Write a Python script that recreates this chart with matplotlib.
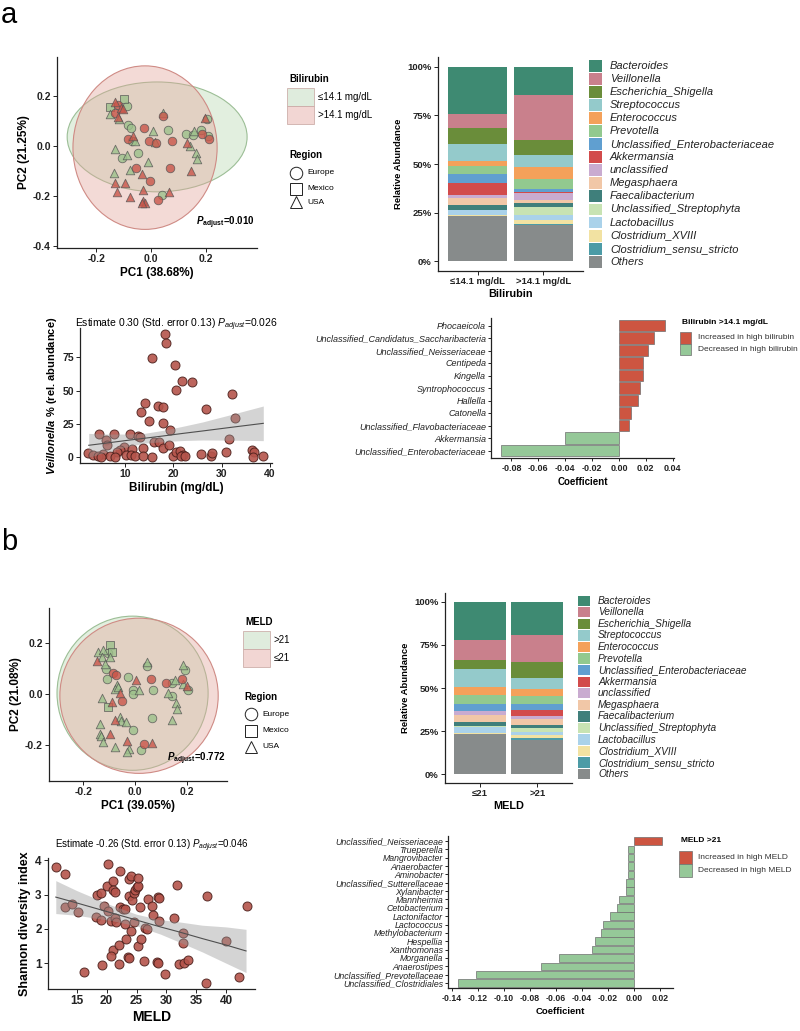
import numpy as np
import matplotlib.pyplot as plt
from matplotlib.patches import Ellipse, Rectangle

plt.rcParams['font.family'] = ['Liberation Sans', 'DejaVu Sans']
plt.rcParams['mathtext.fontset'] = 'custom'
plt.rcParams['mathtext.rm'] = 'Liberation Sans'
plt.rcParams['mathtext.it'] = 'Liberation Sans:italic'
plt.rcParams['mathtext.bf'] = 'Liberation Sans:bold'
plt.rcParams['mathtext.bfit'] = 'Liberation Sans:italic:bold'

# ---------------- data ----------------
# PCoA coloured by bilirubin (0 = <=14.1 mg/dL, 1 = >14.1 mg/dL)
pc1_bil = [-0.149, -0.131, -0.098, -0.120, -0.109, -0.087, -0.149, -0.131, -0.120, -0.102,
           -0.118, -0.084, -0.072, -0.066, -0.084, -0.060, -0.070, -0.025, 0.007, -0.007,
           0.018, 0.015, 0.076, 0.044, 0.044, 0.062, 0.127, 0.151, 0.157, 0.182,
           0.184, 0.196, 0.202, 0.207, 0.211, 0.131, 0.142, 0.164, 0.167, 0.145,
           -0.131, -0.107, -0.086, -0.048, -0.013, -0.076, -0.055, -0.034, -0.004, -0.134,
           -0.131, -0.095, -0.124, -0.076, -0.029, -0.029, -0.022, -0.033, 0.025, 0.040,
           0.066, 0.069]
pc2_bil = [0.156, 0.173, 0.188, 0.164, 0.152, 0.160, 0.128, 0.129, 0.116, 0.145,
           0.107, 0.081, 0.072, 0.038, 0.025, 0.019, 0.020, 0.069, 0.058, 0.018,
           0.010, 0.016, 0.018, 0.132, 0.120, 0.061, 0.045, 0.042, 0.058, 0.061,
           0.045, 0.112, 0.106, 0.038, 0.025, 0.010, 0.000, -0.030, -0.055, -0.100,
           -0.015, -0.050, -0.037, -0.030, -0.064, -0.099, -0.090, -0.113, -0.142, -0.110,
           -0.149, -0.149, -0.185, -0.205, -0.177, -0.221, -0.231, -0.228, -0.216, -0.197,
           -0.185, -0.090]
grp_bil = [0, 1, 0, 1, 1, 0, 0, 1, 1, 1,
           0, 0, 0, 1, 1, 0, 0, 1, 0, 1,
           1, 0, 1, 0, 1, 0, 0, 0, 0, 0,
           1, 1, 0, 0, 1, 1, 0, 0, 0, 1,
           0, 0, 0, 0, 0, 0, 1, 1, 1, 0,
           1, 1, 1, 1, 1, 1, 1, 1, 1, 0,
           1, 1]
reg_bil = ['M', 'U', 'M', 'E', 'U', 'E', 'U', 'E', 'U', 'U',
           'U', 'E', 'E', 'U', 'E', 'U', 'E', 'E', 'U', 'E',
           'E', 'U', 'E', 'U', 'E', 'E', 'E', 'E', 'U', 'E',
           'E', 'U', 'E', 'E', 'E', 'U', 'U', 'U', 'U', 'U',
           'U', 'E', 'U', 'E', 'U', 'U', 'E', 'U', 'E', 'U',
           'U', 'U', 'U', 'U', 'U', 'U', 'U', 'U', 'E', 'E',
           'U', 'E']
# ellipses: centre x, centre y, width, height
ell_bil_low = [0.022, 0.035, 0.654, 0.440]
ell_bil_high = [-0.022, -0.008, 0.524, 0.655]

# PCoA coloured by MELD (0 = <=21, 1 = >21)
pc1_meld = [-0.097, -0.142, -0.123, -0.103, -0.090, -0.146, -0.129, -0.116, -0.110, -0.097,
            -0.106, -0.084, -0.072, -0.026, 0.006, 0.061, 0.045, 0.045, -0.071, -0.078,
            -0.064, -0.009, -0.006, 0.017, 0.071, -0.058, -0.087, -0.048, -0.129, -0.103,
            0.120, 0.142, 0.155, 0.181, 0.187, 0.194, 0.185, 0.203, 0.207, 0.129,
            0.142, 0.159, 0.161, 0.142, 0.067, -0.078, -0.058, -0.052, -0.035, -0.006,
            -0.136, -0.136, -0.097, -0.132, -0.123, -0.032, -0.078, -0.022, -0.030, 0.023,
            0.035, 0.065]
pc2_meld = [0.190, 0.164, 0.171, 0.160, 0.164, 0.129, 0.144, 0.115, 0.098, 0.144,
            0.059, 0.081, 0.072, 0.066, 0.055, 0.058, 0.125, 0.108, 0.033, 0.020,
            0.028, 0.013, 0.000, 0.016, 0.013, 0.003, -0.033, -0.029, -0.017, -0.052,
            0.042, 0.042, 0.055, 0.059, 0.112, 0.094, 0.039, 0.029, 0.013, 0.003,
            -0.010, -0.037, -0.059, -0.105, -0.094, -0.102, -0.092, -0.108, -0.112, -0.142,
            -0.118, -0.157, -0.157, -0.167, -0.190, -0.184, -0.210, -0.217, -0.230, -0.223,
            -0.199, -0.193]
grp_meld = [1, 1, 1, 1, 1, 0, 1, 1, 1, 1,
            1, 0, 0, 1, 0, 0, 1, 1, 1, 1,
            1, 1, 1, 1, 1, 0, 0, 0, 1, 1,
            0, 1, 1, 0, 1, 1, 1, 0, 1, 1,
            1, 1, 1, 1, 1, 0, 1, 1, 1, 1,
            1, 1, 0, 1, 1, 0, 1, 1, 1, 1,
            0, 0]
reg_meld = ['M', 'U', 'U', 'E', 'M', 'U', 'U', 'U', 'E', 'U',
            'E', 'E', 'E', 'E', 'U', 'E', 'U', 'E', 'U', 'U',
            'U', 'E', 'E', 'U', 'E', 'U', 'U', 'E', 'U', 'M',
            'E', 'E', 'U', 'E', 'U', 'E', 'U', 'U', 'E', 'U',
            'E', 'U', 'U', 'U', 'E', 'U', 'U', 'U', 'U', 'E',
            'U', 'U', 'U', 'U', 'U', 'U', 'U', 'U', 'U', 'E',
            'E', 'U']
ell_meld_high = [-0.009, 0.002, 0.584, 0.606]
ell_meld_low = [0.016, -0.008, 0.612, 0.610]

# stacked relative abundance (percent)
taxa = ['Bacteroides', 'Veillonella', 'Escherichia_Shigella', 'Streptococcus', 'Enterococcus',
        'Prevotella', 'Unclassified_Enterobacteriaceae', 'Akkermansia', 'unclassified',
        'Megasphaera', 'Faecalibacterium', 'Unclassified_Streptophyta', 'Lactobacillus',
        'Clostridium_XVIII', 'Clostridium_sensu_stricto', 'Others']
taxa_colors = ['#3E8A72', '#C9808C', '#6A8D3A', '#94CACB', '#F4A15A', '#92C98F', '#609FD0',
               '#D24B4B', '#C9ABD0', '#F1C7A7', '#3F7F7B', '#C8E3B3', '#AAD2EA', '#F2E2A2',
               '#4C9BA6', '#878B8B']
bil_groups = ['≤14.1 mg/dL', '>14.1 mg/dL']
abund_bil_low = [24.4, 7.2, 8.0, 8.7, 2.9, 3.9, 4.6, 6.0, 1.7, 3.8, 2.2, 0.3, 2.7, 0.2, 0.2, 23.2]
abund_bil_high = [14.8, 23.2, 7.5, 6.0, 6.5, 5.1, 1.7, 0.3, 3.4, 1.7, 2.2, 3.8, 2.6, 2.2, 0.7, 18.6]
meld_groups = ['≤21', '>21']
abund_meld_low = [22.5, 11.3, 5.0, 10.8, 4.8, 5.2, 3.8, 0.3, 2.3, 3.8, 2.5, 0.3, 3.8, 0.2, 0.3, 23.3]
abund_meld_high = [19.2, 16.0, 8.7, 6.7, 4.2, 4.2, 3.5, 3.8, 1.7, 3.1, 1.9, 2.3, 2.1, 1.7, 1.2, 19.6]

# Veillonella vs bilirubin
bilirubin = [18.3, 18.5, 15.6, 20.3, 21.7, 23.9, 20.5, 32.1, 14.1, 13.4,
             16.8, 17.8, 26.8, 15.0, 17.8, 32.8, 19.4, 4.6, 7.7, 11.0,
             12.6, 13.2, 6.1, 6.2, 16.0, 17.1, 17.9, 19.0, 31.6, 9.7,
             9.0, 11.5, 8.3, 13.8, 2.4, 3.4, 5.5, 4.5, 6.9, 7.9,
             10.3, 11.2, 12.1, 13.8, 15.6, 19.9, 20.6, 21.4, 22.0, 21.6,
             22.4, 25.7, 27.7, 28.0, 30.9, 36.2, 36.7, 36.4, 38.6, 5.0]
veillonella = [92.4, 86.1, 74.8, 69.3, 57.2, 56.4, 50.4, 47.6, 40.3, 34.0,
               38.3, 37.8, 36.0, 27.2, 25.7, 29.2, 19.9, 16.9, 17.4, 17.4,
               15.6, 14.9, 12.8, 8.8, 11.1, 11.1, 6.5, 8.8, 13.1, 7.1,
               5.0, 5.8, 3.5, 6.3, 2.5, 1.3, 2.0, 0.3, 0.3, 0.0,
               1.5, 1.3, 0.3, 0.3, 0.0, 0.5, 3.8, 4.0, 1.5, 0.5,
               0.3, 2.0, 0.8, 2.5, 3.8, 5.0, 3.3, 0.0, 0.3, 0.0]
fit_bil_x = [2.5, 6, 10, 14, 18, 22, 26, 32, 38.6]
fit_bil_mid = [8.6, 10.2, 12.1, 13.9, 15.7, 17.6, 19.4, 22.2, 25.2]
fit_bil_lo = [-0.4, 3.3, 7.1, 10.2, 11.4, 12.2, 12.6, 12.5, 12.1]
fit_bil_hi = [17.6, 17.1, 17.1, 17.6, 20.0, 23.0, 26.2, 31.9, 38.3]

# Shannon vs MELD
meld = [11.5, 13.1, 13.0, 14.2, 15.2, 16.2, 18.2, 18.4, 19.1, 19.0,
        19.3, 19.6, 20.3, 20.3, 20.1, 21.1, 21.0, 21.4, 20.8, 21.4,
        21.5, 21.1, 20.7, 22.1, 22.1, 22.2, 22.2, 22.8, 23.1, 23.1,
        23.2, 23.5, 23.8, 24.1, 23.7, 23.8, 24.1, 24.2, 24.5, 24.7,
        25.1, 25.3, 24.5, 25.3, 25.2, 25.6, 25.7, 26.4, 26.8, 26.3,
        26.9, 27.5, 27.8, 28.5, 28.6, 28.6, 28.7, 28.7, 29.7, 31.2,
        31.7, 32.1, 32.9, 32.7, 32.8, 33.6, 36.6, 36.7, 40.0, 42.1,
        43.4]
shannon = [3.80, 3.60, 2.64, 2.73, 2.49, 0.74, 2.35, 2.98, 3.04, 2.27,
           0.95, 2.67, 2.51, 3.90, 3.25, 3.39, 3.14, 3.09, 2.22, 2.31,
           2.19, 1.39, 1.22, 1.52, 0.98, 3.70, 2.63, 2.59, 2.58, 2.16,
           1.71, 1.19, 1.15, 1.94, 2.97, 3.46, 3.55, 2.85, 3.04, 3.14,
           3.22, 3.26, 2.19, 3.48, 1.49, 2.63, 1.71, 2.02, 1.99, 1.08,
           2.88, 2.66, 2.41, 1.05, 1.00, 2.93, 2.90, 2.24, 0.69, 2.31,
           3.27, 0.98, 1.00, 1.88, 1.60, 1.10, 0.42, 2.97, 1.65, 0.59,
           2.66]
fit_meld_x = [11.5, 15, 18, 21, 25, 29, 32, 36, 40, 43.3]
fit_meld_mid = [2.93, 2.76, 2.61, 2.46, 2.26, 2.06, 1.92, 1.72, 1.53, 1.36]
fit_meld_lo = [2.45, 2.40, 2.32, 2.24, 2.09, 1.85, 1.63, 1.33, 1.00, 0.73]
fit_meld_hi = [3.41, 3.12, 2.90, 2.68, 2.43, 2.27, 2.21, 2.11, 2.06, 1.99]

# differential abundance coefficients
coef_bil_taxa = ['Phocaeicola', 'Unclassified_Candidatus_Saccharibacteria', 'Unclassified_Neisseriaceae',
                 'Centipeda', 'Kingella', 'Syntrophococcus', 'Hallella', 'Catonella',
                 'Unclassified_Flavobacteriaceae', 'Akkermansia', 'Unclassified_Enterobacteriaceae']
coef_bil = [0.0343, 0.0262, 0.0213, 0.0179, 0.0176, 0.0154, 0.0144, 0.0093, 0.0078, -0.0399, -0.0881]
coef_meld_taxa = ['Unclassified_Neisseriaceae', 'Trueperella', 'Mangrovibacter', 'Anaerobacter',
                  'Aminobacter', 'Unclassified_Sutterellaceae', 'Xylanibacter', 'Mannheimia',
                  'Cetobacterium', 'Lactonifactor', 'Lactococcus', 'Methylobacterium', 'Hespellia',
                  'Xanthomonas', 'Morganella', 'Anaerostipes', 'Unclassified_Prevotellaceae',
                  'Unclassified_Clostridiales']
coef_meld = [0.0211, -0.0051, -0.0051, -0.0051, -0.0051, -0.0059, -0.0064, -0.0120, -0.0135, -0.0186,
             -0.0242, -0.0254, -0.0303, -0.0326, -0.0573, -0.0718, -0.1211, -0.1349]

# ---------------- style ----------------
GREEN = '#9DC18B'
RED = '#C9564A'
BAR_UP = '#CD5541'
BAR_DOWN = '#95C898'
MARK = {'E': 'o', 'M': 's', 'U': '^'}
REGIONS = [('o', 'Europe'), ('s', 'Mexico'), ('^', 'USA')]

W, H = 800, 1031
fig = plt.figure(figsize=(W / 100, H / 100), dpi=100)


def px_axes(l, t, r, b):
    return fig.add_axes([l / W, 1 - b / H, (r - l) / W, (b - t) / H])


def classic(ax, size, xlen=3, ylen=3):
    for s in ['top', 'right']:
        ax.spines[s].set_visible(False)
    for s in ['left', 'bottom']:
        ax.spines[s].set_linewidth(0.9)
        ax.spines[s].set_color('#222222')
    ax.tick_params(axis='x', length=xlen, width=0.7, labelsize=size, pad=1.5, colors='#222222')
    ax.tick_params(axis='y', length=ylen, width=0.7, labelsize=size, pad=1.5, colors='#222222')
    ax.set_facecolor('none')


def bold_ticks(ax):
    for lab in ax.get_xticklabels() + ax.get_yticklabels():
        lab.set_fontweight('bold')


# ---------------- PCoA panels ----------------
def pcoa(ax, pc1, pc2, grp, reg, ell_green, ell_red, xlim, ylim, xlabel, ylabel, ptxt):
    for e, fc, ec, a in [(ell_green, '#B4D6AC', '#9CBE96', 0.38), (ell_red, '#E3A49A', '#CF8B85', 0.40)]:
        ax.add_patch(Ellipse((e[0], e[1]), e[2], e[3], facecolor=fc, alpha=a, edgecolor='none', zorder=1))
        ax.add_patch(Ellipse((e[0], e[1]), e[2], e[3], facecolor='none', edgecolor=ec, lw=0.8, zorder=1))
    pc1 = np.array(pc1)
    pc2 = np.array(pc2)
    grp = np.array(grp)
    reg = np.array(reg)
    for g, col in [(0, GREEN), (1, RED)]:
        for r, m in MARK.items():
            sel = (grp == g) & (reg == r)
            ax.scatter(pc1[sel], pc2[sel], marker=m, s=38, c=col, edgecolors='#555555',
                       linewidths=0.6, alpha=0.8, zorder=3)
    ax.set_xlim(*xlim)
    ax.set_ylim(*ylim)
    classic(ax, 7.5)
    ax.set_xticks([-0.2, 0.0, 0.2], ['-0.2', '0.0', '0.2'])
    ax.set_yticks([t for t in [0.2, 0.0, -0.2, -0.4] if t > ylim[0]])
    ax.set_yticklabels(['%.1f' % t for t in ax.get_yticks()])
    bold_ticks(ax)
    ax.set_xlabel(xlabel, fontsize=8.5, fontweight='bold', labelpad=2)
    ax.set_ylabel(ylabel, fontsize=8.5, fontweight='bold', labelpad=2)
    ax.text(0.99, 0.13, ptxt, transform=ax.transAxes, ha='right', va='center',
            fontsize=7, fontweight='bold')


ax1 = px_axes(57, 57, 257, 248)
pcoa(ax1, pc1_bil, pc2_bil, grp_bil, reg_bil, ell_bil_low, ell_bil_high,
     (-0.342, 0.385), (-0.41, 0.355), 'PC1 (38.68%)', 'PC2 (21.25%)',
     r'$\mathbfit{P}_{\mathbf{adjust}}$=0.010')

ax5 = px_axes(49, 608, 227, 781)
pcoa(ax5, pc1_meld, pc2_meld, [1 - g for g in grp_meld], reg_meld, ell_meld_high, ell_meld_low,
     (-0.332, 0.356), (-0.343, 0.337), 'PC1 (39.05%)', 'PC2 (21.08%)',
     r'$\mathbfit{P}_{\mathbf{adjust}}$=0.772')


# ---------------- stacked bars ----------------
def stacked(ax, groups, cols, xlabel, size):
    data = np.array(cols, dtype=float)
    data = data / data.sum(axis=1, keepdims=True) * 100
    x = np.arange(len(groups))
    bottom = np.zeros(len(groups))
    for i in range(len(taxa) - 1, -1, -1):
        ax.bar(x, data[:, i], bottom=bottom, width=0.9, color=taxa_colors[i], lw=0)
        bottom += data[:, i]
    ax.set_xlim(-0.6, 1.6)
    ax.set_ylim(-5, 105)
    classic(ax, size)
    ax.set_xticks(x, groups)
    ax.set_yticks([0, 25, 50, 75, 100], ['0%', '25%', '50%', '75%', '100%'])
    bold_ticks(ax)
    ax.set_xlabel(xlabel, fontsize=size + 1, fontweight='bold', labelpad=2)
    ax.set_ylabel('Relative Abundance', fontsize=size, fontweight='bold', labelpad=3)


ax2 = px_axes(438, 57, 583, 271)
stacked(ax2, bil_groups, [abund_bil_low, abund_bil_high], 'Bilirubin', 6.8)
ax6 = px_axes(445, 593, 572, 783)
stacked(ax6, meld_groups, [abund_meld_low, abund_meld_high], 'MELD', 6.8)


# ---------------- regression scatters ----------------
def regscatter(ax, x, y, fx, fmid, flo, fhi, xlim, ylim, xticks, yticks, size):
    ax.scatter(x, y, s=42, c='#B5544B', edgecolors='#4B201C', linewidths=0.7, alpha=0.9, zorder=2)
    ax.fill_between(fx, flo, fhi, color='#9A9A9A', alpha=0.42, lw=0, zorder=3)
    ax.plot(fx, fmid, color='#4F4F4F', lw=0.8, zorder=4)
    ax.set_xlim(*xlim)
    ax.set_ylim(*ylim)
    classic(ax, size)
    ax.set_xticks(xticks)
    ax.set_yticks(yticks)
    bold_ticks(ax)


ax3 = px_axes(80, 328, 272, 463)
regscatter(ax3, bilirubin, veillonella, fit_bil_x, fit_bil_mid, fit_bil_lo, fit_bil_hi,
           (0.7, 40.4), (-4.8, 97.3), [10, 20, 30, 40], [0, 25, 50, 75], 7.5)
ax3.set_xlabel('Bilirubin (mg/dL)', fontsize=8.5, fontweight='bold', labelpad=2)
ax3.set_ylabel(r'$\mathbfit{Veillonella}$ % (rel. abundance)', fontsize=8, fontweight='bold', labelpad=2)
ax3.text(0.5, 1.02, r'Estimate 0.30 (Std. error 0.13) $\mathit{P}_{\mathit{adjust}}$=0.026',
         transform=ax3.transAxes, ha='center', va='center', fontsize=7.5)

ax7 = px_axes(48, 858, 255, 989)
regscatter(ax7, meld, shannon, fit_meld_x, fit_meld_mid, fit_meld_lo, fit_meld_hi,
           (10.2, 44.8), (0.25, 4.07), [15, 20, 25, 30, 35, 40], [1, 2, 3, 4], 8.5)
ax7.set_xlabel('MELD', fontsize=10, fontweight='bold', labelpad=2)
ax7.set_ylabel('Shannon diversity index', fontsize=9, fontweight='bold', labelpad=3)
ax7.text(0.5, 1.09, r'Estimate -0.26 (Std. error 0.13) $\mathit{P}_{\mathit{adjust}}$=0.046',
         transform=ax7.transAxes, ha='center', va='center', fontsize=7)


# ---------------- coefficient bars ----------------
def coefbars(ax, names, vals, xlim, xticks, size):
    n = len(names)
    rows = np.arange(n, 0, -1)
    cols = [BAR_UP if v > 0 else BAR_DOWN for v in vals]
    ax.barh(rows, vals, height=0.9, color=cols, edgecolor='#6E6E6E', lw=0.5)
    ax.set_xlim(*xlim)
    ax.set_ylim(0.4, n + 0.6)
    classic(ax, size, xlen=2.5, ylen=2)
    ax.set_yticks(rows, names)
    for lab in ax.get_yticklabels():
        lab.set_fontstyle('italic')
    ax.set_xticks(xticks, ['%.2f' % t for t in xticks])
    for lab in ax.get_xticklabels():
        lab.set_fontweight('bold')
    ax.set_xlabel('Coefficient', fontsize=size + 0.5, fontweight='bold', labelpad=3)


ax4 = px_axes(491, 318, 674, 458)
coefbars(ax4, coef_bil_taxa, coef_bil, (-0.0952, 0.041), [-0.08, -0.06, -0.04, -0.02, 0.0, 0.02, 0.04], 6.5)
ax8 = px_axes(448, 836, 673, 988)
coefbars(ax8, coef_meld_taxa, coef_meld, (-0.1428, 0.0298),
         [-0.14, -0.12, -0.10, -0.08, -0.06, -0.04, -0.02, 0.0, 0.02], 6.3)

# ---------------- legends & panel letters (pixel overlay) ----------------
ov = fig.add_axes([0, 0, 1, 1])
ov.set_xlim(0, W)
ov.set_ylim(H, 0)
ov.axis('off')


def group_legend(x, y, title, labels, cols, pw, ph):
    ov.text(x + 2, y, title, fontsize=7, fontweight='bold', va='center')
    for i, (lab, c) in enumerate(zip(labels, cols)):
        top = y + 9 + i * ph
        ov.add_patch(Rectangle((x, top), pw, ph, facecolor=c, edgecolor='#C9A9A4', lw=0.6, alpha=0.9))
        ov.text(x + pw + 4, top + ph / 2, lab, fontsize=7, va='center')


def region_legend(x, y, rows_y):
    ov.text(x + 2, y, 'Region', fontsize=7, fontweight='bold', va='center')
    for (m, lab), ry in zip(REGIONS, rows_y):
        ov.plot(x + 9, ry, marker=m, ms=9, mfc='none', mec='#222222', mew=0.7)
        ov.text(x + 20, ry, lab, fontsize=6, va='center')


group_legend(287, 79, 'Bilirubin', bil_groups, ['#DCEADA', '#F1D2CF'], 27, 18)
region_legend(287, 155, [173, 189, 202])
group_legend(243, 622, 'MELD', ['>21', '≤21'], ['#DCEADA', '#F1D2CF'], 27, 18)
region_legend(242, 697, [714, 731, 747])


def taxa_legend(x, y0, dy, pw, size):
    for i, (name, c) in enumerate(zip(taxa, taxa_colors)):
        y = y0 + i * dy
        ov.add_patch(Rectangle((x, y - dy / 2 + 0.6), pw, dy - 1.2, facecolor=c, lw=0))
        ov.text(x + pw + 8, y, name, fontsize=size, style='italic', va='center', color='#222222')


taxa_legend(589, 65.7, 13.07, 13, 8)
taxa_legend(578, 600.7, 11.57, 12, 7.3)


def coef_legend(x, y, title, labels, pw, ph):
    ov.text(x + 2, y, title, fontsize=6, fontweight='bold', va='center')
    for i, (lab, c) in enumerate(zip(labels, [BAR_UP, BAR_DOWN])):
        top = y + 10 + i * ph
        ov.add_patch(Rectangle((x, top), pw, ph, facecolor=c, edgecolor='#6E6E6E', lw=0.5))
        ov.text(x + pw + 7, top + ph / 2, lab, fontsize=6, va='center', color='#333333')


coef_legend(680, 322, 'Bilirubin >14.1 mg/dL', ['Increased in high bilirubin', 'Decreased in high bilirubin'], 11, 11.5)
coef_legend(679, 841, 'MELD >21', ['Increased in high MELD', 'Decreased in high MELD'], 12.5, 13)

ov.text(1, 23, 'a', fontsize=21)
ov.text(1, 550, 'b', fontsize=21)

fig.savefig('out.png', dpi=100)
